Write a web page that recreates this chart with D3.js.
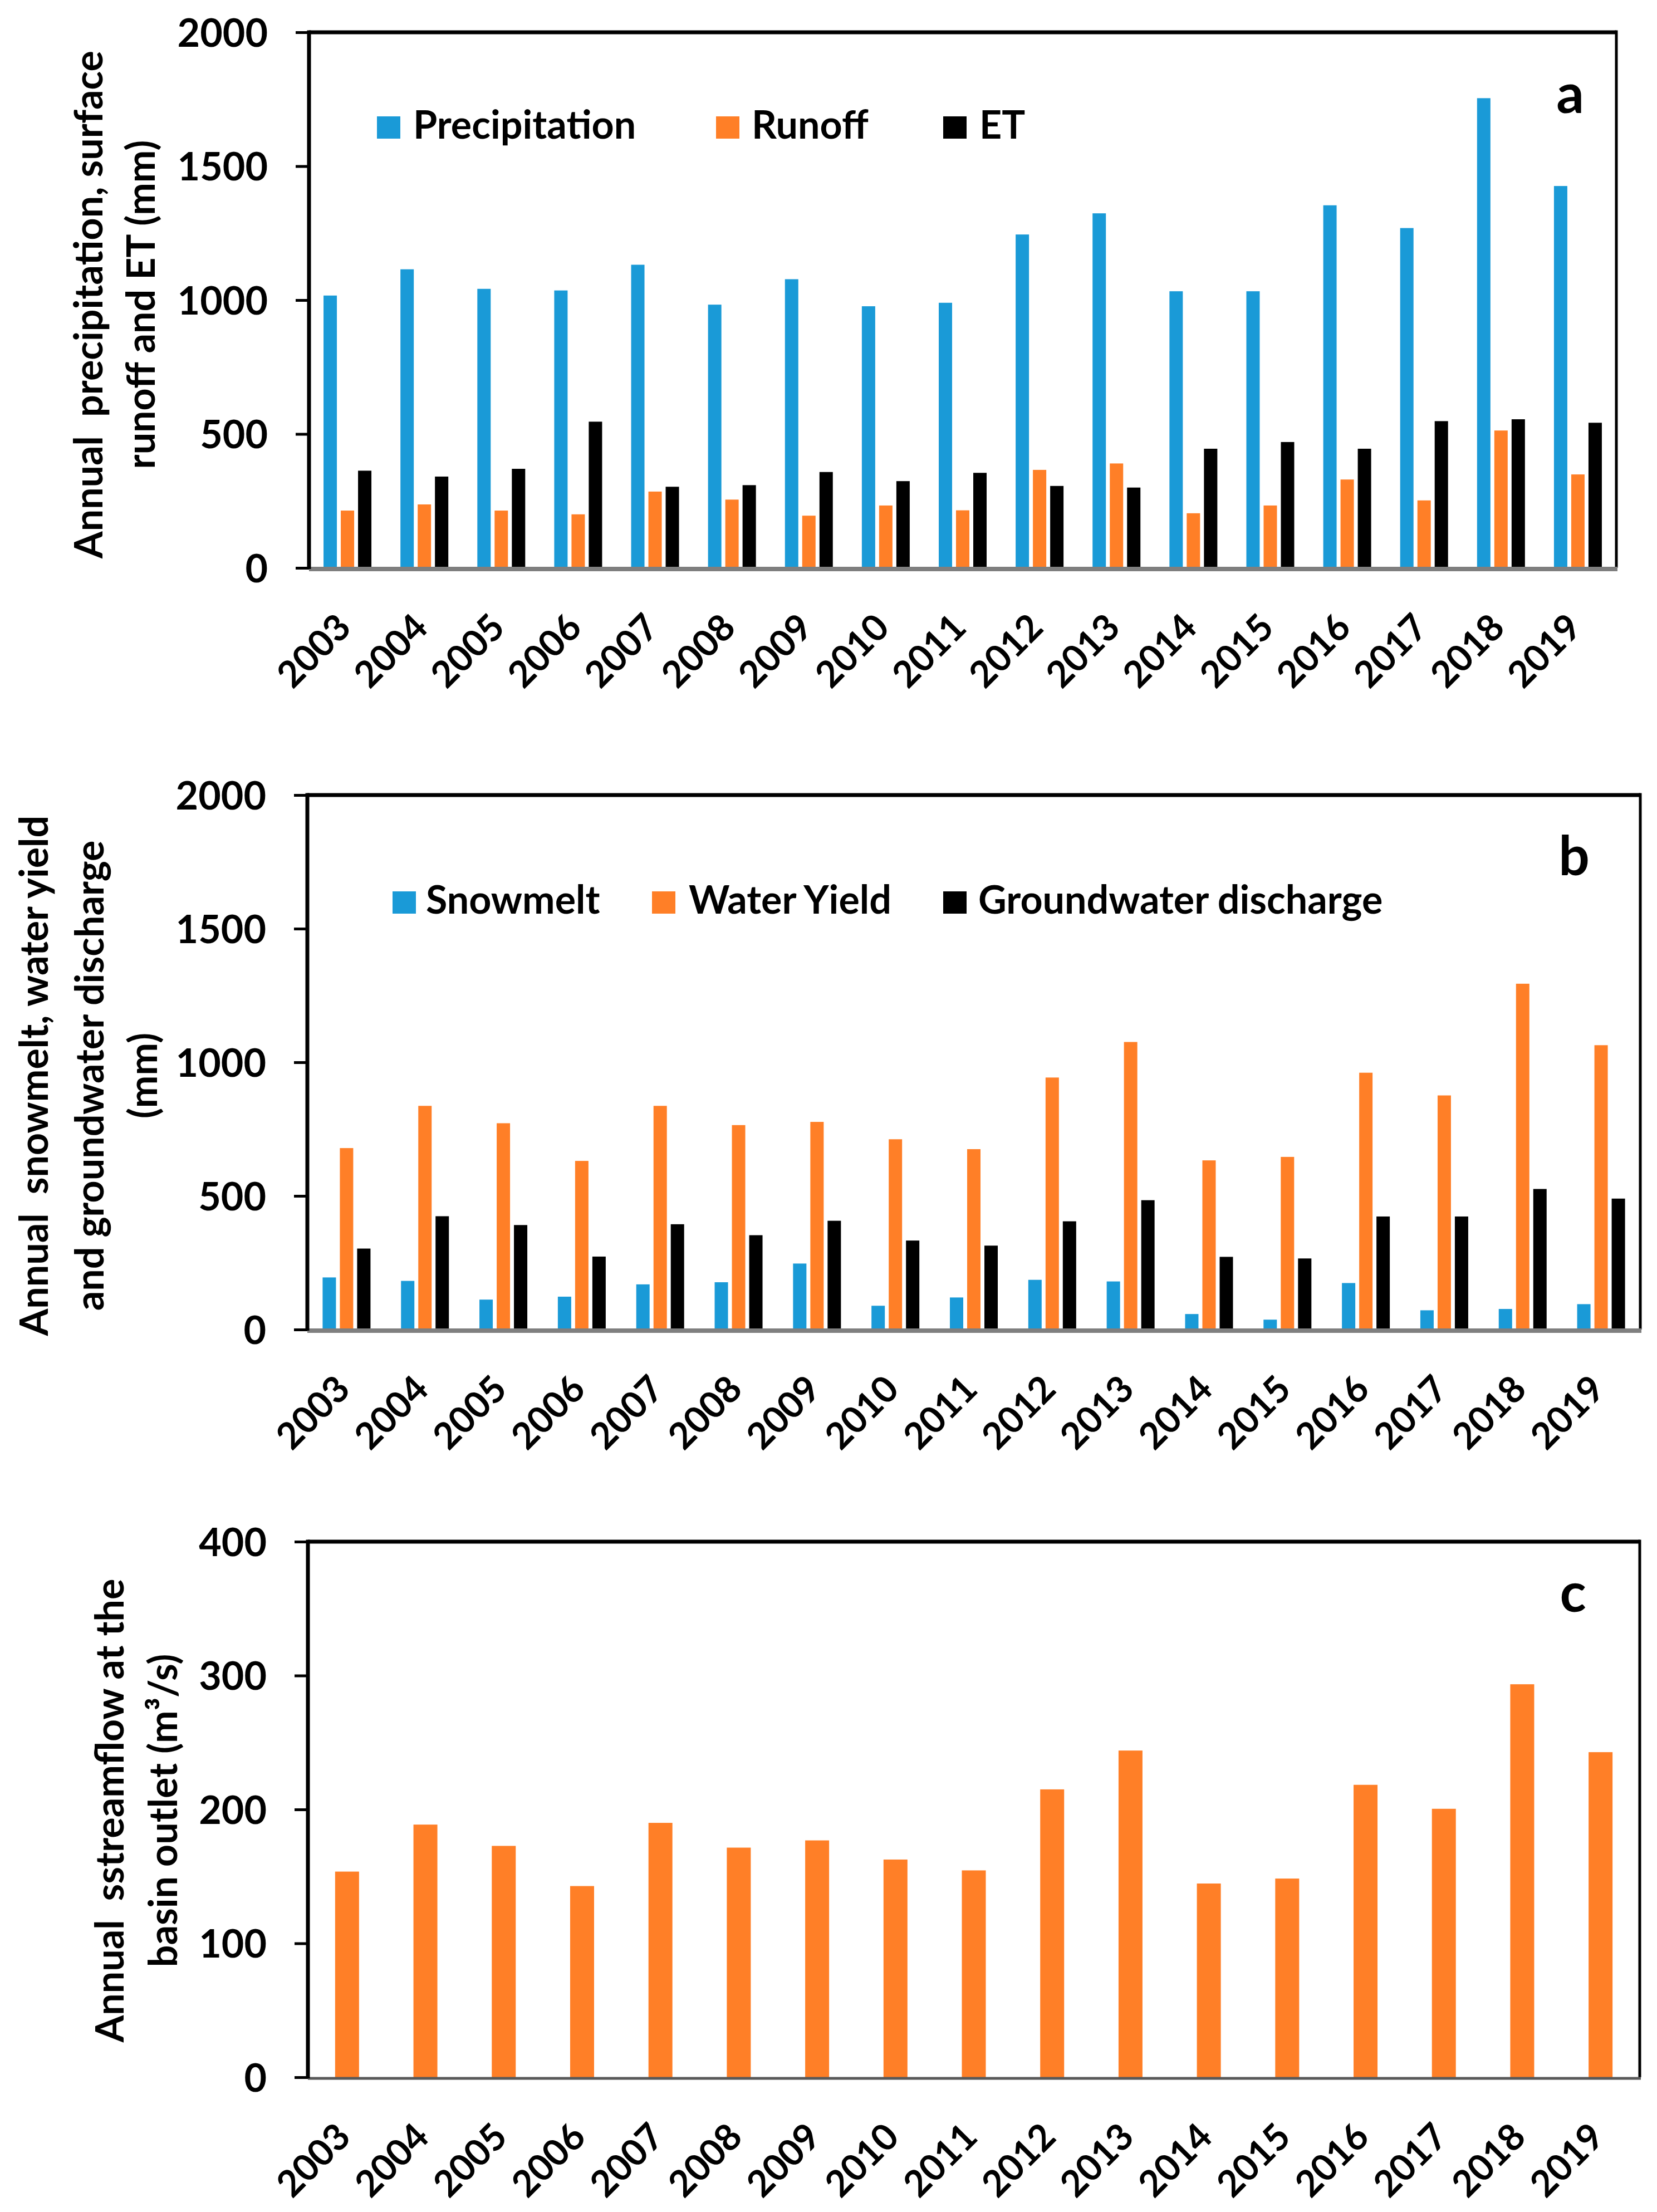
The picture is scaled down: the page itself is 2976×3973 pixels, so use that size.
<!DOCTYPE html>
<html>
<head>
<meta charset="utf-8">
<script src="https://cdn.jsdelivr.net/npm/d3@7/dist/d3.min.js"></script>
<style>
  html, body { margin: 0; padding: 0; background: #ffffff; }
  svg { display: block; }
  text { font-family: Lato, "Open Sans", sans-serif; font-weight: 700; fill: #000; }
</style>
</head>
<body>
<script>
// ---------- data ----------
const years = ["2003","2004","2005","2006","2007","2008","2009","2010","2011","2012","2013","2014","2015","2016","2017","2018","2019"];

const precipitation = [1017,1115,1042,1036,1132,983,1078,977,990,1245,1324,1033,1033,1354,1269,1754,1426];
const runoff        = [214,237,214,200,285,255,195,233,215,366,390,204,233,330,252,513,349];
const et            = [363,341,370,546,303,309,358,324,355,306,300,445,470,445,548,555,542];

const snowmelt      = [195,182,112,123,169,177,247,89,120,186,180,58,37,174,72,77,95];
const waterYield    = [679,837,772,631,837,765,777,712,675,943,1076,633,646,961,876,1294,1064];
const gwDischarge   = [303,424,391,273,394,353,407,333,314,405,484,272,266,423,423,526,490];

const streamflow    = [153.6,188.7,172.8,142.8,190,171.5,176.9,162.6,154.5,215,244,144.7,148.4,218.4,200.5,293.5,242.8];

const ticksMM  = [0,500,1000,1500,2000];
const ticksQ   = [0,100,200,300,400];

const seriesA = ["Precipitation","Runoff","ET"];
const seriesB = ["Snowmelt","Water Yield","Groundwater discharge"];
const seriesC = ["Streamflow"];

const colBlue = "#1A9AD7", colOrange = "#FF7F27", colBlack = "#000000";

// ---------- layout ----------
const W = 2976, H = 3973;
const svg = d3.select("body").append("svg").attr("width", W).attr("height", H);

const panels = [
  { id:"a", left:555, right:2903, top:58, bottom:1020, max:2000, ticks:ticksMM,
    series: seriesA, values:[precipitation, runoff, et], colors:[colBlue,colOrange,colBlack],
    groupW: 86, letter:{x:2820, y:203},
    legend:{ y:249, items:[{sx:677, tx:742},{sx:1286, tx:1350},{sx:1694, tx:1759}] },
    title:{ cy:547, lines:[{x:184, t:"Annual  precipitation, surface"},{x:278, t:"runoff and ET (mm)"}] },
    bottomStroke:"#7f7f7f", bottomW:8 },
  { id:"b", left:552, right:2946, top:1428, bottom:2388, max:2000, ticks:ticksMM,
    series: seriesB, values:[snowmelt, waterYield, gwDischarge], colors:[colBlue,colOrange,colBlack],
    groupW: 86, letter:{x:2827, y:1572},
    legend:{ y:1641, items:[{sx:705, tx:765},{sx:1171, tx:1237},{sx:1694, tx:1757}] },
    title:{ cy:1932, lines:[{x:86, t:"Annual  snowmelt, water yield"},{x:186, t:"and groundwater discharge"},{x:282, t:"(mm)"}] },
    bottomStroke:"#7f7f7f", bottomW:8 },
  { id:"c", left:553, right:2945, top:2769, bottom:3731, max:400, ticks:ticksQ,
    series: seriesC, values:[streamflow], colors:[colOrange],
    groupW: 43, letter:{x:2825, y:2895},
    legend:null,
    title:{ cy:3252, lines:[{x:222, t:"Annual  sstreamflow at the"},{x:318, t:"basin outlet (m\u00B3/s)"}] },
    bottomStroke:"#595959", bottomW:5 }
];

panels.forEach(p => {
  const g = svg.append("g").attr("class", "panel-" + p.id);

  const x = d3.scaleBand().domain(years).range([p.left, p.right]).paddingInner(0).paddingOuter(0);
  const y = d3.scaleLinear().domain([0, p.max]).range([p.bottom, p.top]);

  // sub band for series within a year
  const nS = p.series.length;
  const x1 = d3.scaleBand().domain(p.series)
      .range([-p.groupW/2, p.groupW/2])
      .paddingInner(nS > 1 ? 0.226 : 0);

  // bars
  p.series.forEach((s, si) => {
    g.append("g").attr("class", "series")
      .selectAll("rect")
      .data(years.map((yr, i) => ({ yr, v: p.values[si][i] })))
      .join("rect")
      .attr("x", d => x(d.yr) + x.bandwidth()/2 + x1(s))
      .attr("width", x1.bandwidth())
      .attr("y", d => y(d.v))
      .attr("height", d => y(0) - y(d.v))
      .attr("fill", p.colors[si]);
  });

  // frame: top and right border
  g.append("line").attr("x1", p.left).attr("x2", p.right).attr("y1", p.top).attr("y2", p.top)
    .attr("stroke", "#000").attr("stroke-width", 7);
  g.append("line").attr("x1", p.right).attr("x2", p.right).attr("y1", p.top - 3.5).attr("y2", p.bottom)
    .attr("stroke", "#000").attr("stroke-width", 5);

  // bottom axis line (gray)
  g.append("line").attr("x1", p.left).attr("x2", p.right + 2).attr("y1", p.bottom + 2).attr("y2", p.bottom + 2)
    .attr("stroke", p.bottomStroke).attr("stroke-width", p.bottomW);

  // y axis
  const yAxis = d3.axisLeft(y).tickValues(p.ticks).tickSize(24).tickSizeOuter(0).tickPadding(50)
      .tickFormat(d3.format("d"));
  const ga = g.append("g").attr("transform", `translate(${p.left},0)`).call(yAxis);
  ga.select(".domain").attr("stroke", "#000").attr("stroke-width", 7)
    .attr("d", `M0,${p.top - 3.5}V${p.bottom + 2}`);
  ga.selectAll(".tick line").attr("stroke", "#000").attr("stroke-width", 5);
  ga.selectAll(".tick text")
    .style("font-family", "Lato, 'Open Sans', sans-serif")
    .style("font-weight", 700)
    .attr("font-size", 70).attr("fill", "#000").attr("dy", "0.36em");

  // x labels, rotated 45
  g.append("g").attr("class", "xlabels")
    .selectAll("text").data(years).join("text")
    .attr("transform", d => `translate(${x(d) + x.bandwidth()/2 + 10},${p.bottom + 111}) rotate(-45)`)
    .attr("text-anchor", "end")
    .attr("font-size", 66)
    .text(d => d);

  // panel letter
  g.append("text").attr("x", p.letter.x).attr("y", p.letter.y)
    .attr("text-anchor", "middle").attr("font-size", 98).text(p.id);

  // legend
  if (p.legend) {
    const lg = g.append("g").attr("class", "legend");
    p.series.forEach((s, si) => {
      const it = p.legend.items[si];
      lg.append("rect").attr("x", it.sx).attr("y", p.legend.y - 40).attr("width", 42).attr("height", 40)
        .attr("fill", p.colors[si]);
      lg.append("text").attr("x", it.tx).attr("y", p.legend.y).attr("font-size", 70).text(s);
    });
  }

  // y title
  const tg = g.append("g").attr("class", "ytitle");
  p.title.lines.forEach(l => {
    tg.append("text")
      .attr("transform", `translate(${l.x},${p.title.cy}) rotate(-90)`)
      .attr("text-anchor", "middle")
      .attr("font-size", 70)
      .style("white-space", "pre")
      .text(l.t);
  });
});
</script>
</body>
</html>
